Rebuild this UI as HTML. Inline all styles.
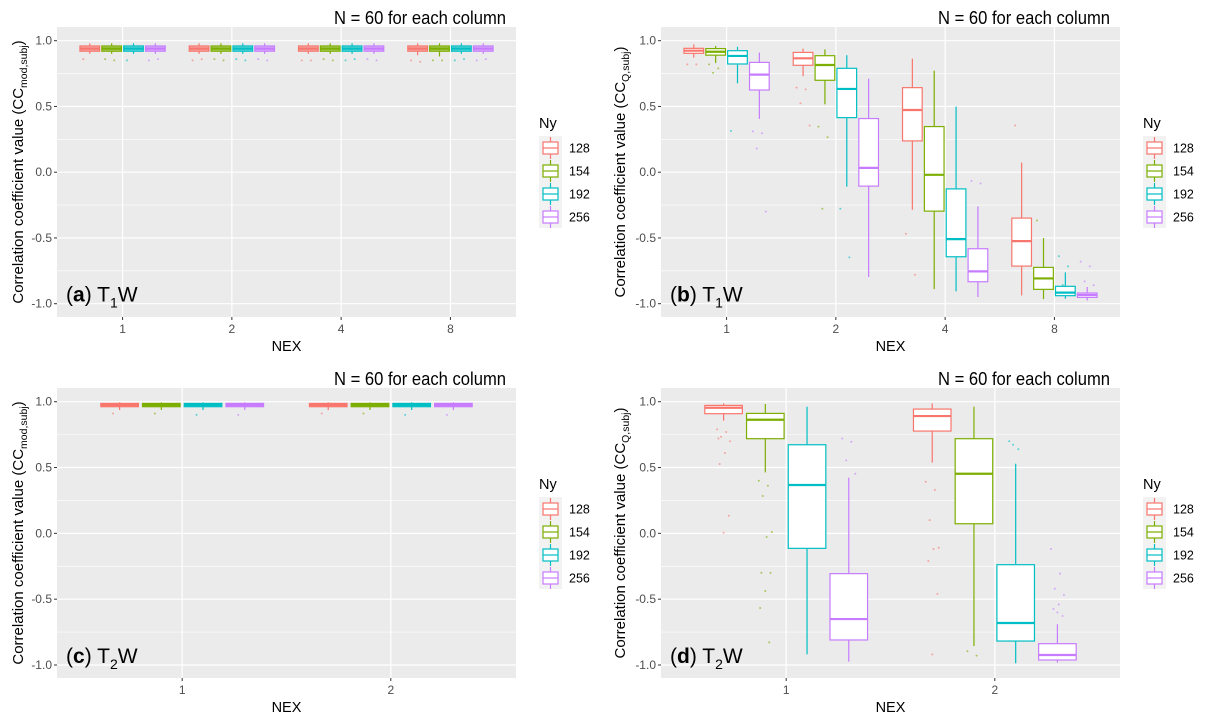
<!DOCTYPE html>
<html><head><meta charset="utf-8">
<style>
body{margin:0;background:#fff;}
svg{display:block;font-family:"Liberation Sans",Arial,sans-serif;}
</style></head>
<body>
<svg id="fig" width="1217" height="721" viewBox="0 0 1217 721" xmlns="http://www.w3.org/2000/svg"></svg>
<script>
// ---- Data ----
const colors = ["#F8766D","#7CAE00","#00BFC4","#C77CFF"];
const nyLabels = ["128","154","192","256"];
const yTicks = [-1.0,-0.5,0.0,0.5,1.0];
const yTickLabels = ["-1.0","-0.5","0.0","0.5","1.0"];
const nexT1 = ["1","2","4","8"];
const nexT2 = ["1","2"];
// stats: [lowerWhisker, q1, median, q3, upperWhisker], ordered by NEX then Ny
const statsA = [
 [0.90,0.92,0.94,0.96,0.98],[0.90,0.92,0.94,0.96,0.98],[0.90,0.92,0.94,0.96,0.98],[0.90,0.92,0.94,0.96,0.98],
 [0.90,0.92,0.94,0.96,0.98],[0.90,0.92,0.94,0.96,0.98],[0.90,0.92,0.94,0.96,0.98],[0.90,0.92,0.94,0.96,0.98],
 [0.90,0.92,0.94,0.96,0.98],[0.90,0.92,0.94,0.96,0.98],[0.90,0.92,0.94,0.96,0.98],[0.90,0.92,0.94,0.96,0.98],
 [0.89,0.92,0.94,0.96,0.98],[0.88,0.92,0.94,0.96,0.98],[0.90,0.92,0.94,0.96,0.98],[0.90,0.92,0.94,0.96,0.98]];
const outA = [[0.86],[0.86,0.85],[0.85],[0.85,0.86],[0.85,0.86],[0.86,0.85],[0.86,0.85],[0.86,0.85],
 [0.85,0.85],[0.86,0.85],[0.85,0.86],[0.86,0.85],[0.85,0.84],[0.85,0.85],[0.85,0.86],[0.85,0.86]];
const statsB = [
 [0.87,0.904,0.924,0.942,0.972],[0.83,0.89,0.916,0.94,0.96],[0.676,0.823,0.884,0.924,0.954],[0.405,0.625,0.742,0.835,0.91],
 [0.73,0.813,0.866,0.911,0.94],[0.516,0.699,0.815,0.886,0.934],[-0.11,0.415,0.633,0.79,0.89],[-0.797,-0.106,0.033,0.408,0.711],
 [-0.286,0.238,0.473,0.643,0.863],[-0.889,-0.296,-0.02,0.347,0.772],[-0.906,-0.643,-0.509,-0.127,0.499],[-0.949,-0.833,-0.754,-0.582,-0.26],
 [-0.937,-0.714,-0.524,-0.349,0.073],[-0.965,-0.891,-0.808,-0.724,-0.501],[-0.962,-0.939,-0.916,-0.868,-0.762],[-0.975,-0.952,-0.934,-0.919,-0.873]];
const outB = [[0.82,0.82],[0.82,0.79,0.755],[0.314],[0.31,0.296,0.18,-0.30],
 [0.643,0.63,0.524,0.355],[0.347,0.266,-0.278],[-0.278,-0.648],[],
 [-0.468,-0.78],[],[],[-0.066,-0.086],
 [0.355],[-0.367],[-0.638,-0.716,-0.858],[-0.68,-0.716,-0.83,-0.86]];
const statsC = [
 [0.937,0.962,0.975,0.987,0.995],[0.937,0.962,0.975,0.987,0.995],[0.937,0.962,0.975,0.987,0.995],[0.937,0.962,0.975,0.987,0.995],
 [0.937,0.962,0.975,0.987,0.995],[0.937,0.962,0.975,0.987,0.995],[0.937,0.962,0.975,0.987,0.995],[0.937,0.962,0.975,0.987,0.995]];
const outC = [[0.91],[0.91],[0.90],[0.90],[0.91],[0.91],[0.90],[0.90]];
const statsD = [
 [0.856,0.909,0.954,0.972,0.987],[0.463,0.719,0.863,0.911,0.982],[-0.919,-0.114,0.367,0.673,0.962],[-0.975,-0.81,-0.651,-0.306,0.423],
 [0.537,0.777,0.891,0.944,0.987],[-0.856,0.073,0.453,0.719,0.962],[-0.987,-0.818,-0.681,-0.238,0.529],[-0.982,-0.962,-0.924,-0.838,-0.69]];
const outD = [[0.79,0.77,0.734,0.70,0.61,0.527,0.134,0.005,0.72],[0.40,0.362,0.284,0.01,-0.028,-0.299,-0.30,-0.438,-0.567,-0.828],[],[0.72,0.696,0.554,0.453],
 [0.392,0.33,0.10,-0.109,-0.119,-0.21,-0.46,-0.919],[-0.896,-0.929],[0.70,0.64,0.673],[-0.119,-0.306,-0.42,-0.468,-0.54,-0.575,-0.628,-0.6]];

// ---- Drawing ----
const NS="http://www.w3.org/2000/svg";
const svg=document.getElementById('fig');
function mk(tag,attrs,parent){const e=document.createElementNS(NS,tag);for(const k in attrs)e.setAttribute(k,attrs[k]);(parent||svg).appendChild(e);return e;}

const panels=[
 {id:'a',x0:57,top:27,bot:317,yTop:40.7,yBot:303.7,cats:nexT1,stats:statsA,outs:outA,fill:true,sub:'mod,subj',label:'a',T:'1',legX:539,titleX:18},
 {id:'b',x0:661,top:27,bot:317,yTop:40.7,yBot:303.7,cats:nexT1,stats:statsB,outs:outB,fill:false,sub:'Q,subj',label:'b',T:'1',legX:1143,titleX:620},
 {id:'c',x0:57,top:388,bot:678,yTop:401.7,yBot:665,cats:nexT2,stats:statsC,outs:outC,fill:true,sub:'mod,subj',label:'c',T:'2',legX:539,titleX:18},
 {id:'d',x0:661,top:388,bot:678,yTop:401.7,yBot:665,cats:nexT2,stats:statsD,outs:outD,fill:false,sub:'Q,subj',label:'d',T:'2',legX:1143,titleX:620}
];
const W=459;
panels.forEach(p=>{
 const g=mk('g',{});
 
 
 const n=p.cats.length;
 const unit=W/(n+0.2);
 const xs=i=>p.x0+(i+0.6)*unit;
 const ys=v=>p.yBot+(v+1)/2*(p.yTop-p.yBot);
 const bg=mk('rect',{x:p.x0,y:p.top,width:W,height:p.bot-p.top,fill:'#EBEBEB'},g);
 
 
 for(let k=0;k<yTicks.length-1;k++){const v=(yTicks[k]+yTicks[k+1])/2;mk('line',{x1:p.x0,x2:p.x0+W,y1:ys(v),y2:ys(v),stroke:'#fff','stroke-width':0.6},g);}
 yTicks.forEach((v,k)=>{
  mk('line',{x1:p.x0,x2:p.x0+W,y1:ys(v),y2:ys(v),stroke:'#fff','stroke-width':1.2},g);
  mk('line',{x1:p.x0-3,x2:p.x0,y1:ys(v),y2:ys(v),stroke:'#333','stroke-width':1},g);
  const t=mk('text',{x:p.x0-5,y:ys(v)+4,'text-anchor':'end','font-size':12,fill:'#4D4D4D'},g);t.textContent=yTickLabels[k];
  
  
 });
 p.cats.forEach((c,i)=>{
  mk('line',{x1:xs(i),x2:xs(i),y1:p.top,y2:p.bot,stroke:'#fff','stroke-width':1.2},g);
  mk('line',{x1:xs(i),x2:xs(i),y1:p.bot,y2:p.bot+3,stroke:'#333','stroke-width':1},g);
  const t=mk('text',{x:xs(i),y:p.bot+16,'text-anchor':'middle','font-size':12,fill:'#4D4D4D'},g);t.textContent=c;
  
  
 });
 const bw=unit*0.2;
 p.stats.forEach((s,j)=>{
  const ci=Math.floor(j/4),ny=j%4;
  const cx=xs(ci)+(ny-1.5)*bw;
  const col=colors[ny];
  const bx=mk('g',{},g);
  
  
  mk('line',{x1:cx,x2:cx,y1:ys(s[4]),y2:ys(s[3]),stroke:col,'stroke-width':1.2},bx);
  mk('line',{x1:cx,x2:cx,y1:ys(s[1]),y2:ys(s[0]),stroke:col,'stroke-width':1.2},bx);
  mk('rect',{x:cx-bw*0.45,y:ys(s[3]),width:bw*0.9,height:Math.max(0.5,ys(s[1])-ys(s[3])),fill:p.fill?col:'#fff','fill-opacity':p.fill?0.55:1,stroke:col,'stroke-width':1.2},bx);
  mk('line',{x1:cx-bw*0.45,x2:cx+bw*0.45,y1:ys(s[2]),y2:ys(s[2]),stroke:col,'stroke-width':2.2},bx);
  p.outs[j].forEach((v,k)=>{
   const o=mk('circle',{cx:cx+((k*7)%11-5)*1.3,cy:ys(v),r:1,fill:col,'fill-opacity':0.6},bx);
   
   
  });
 });
 const nt=mk('text',{x:p.x0+W-10,y:p.top-3,'text-anchor':'end','font-size':18,fill:'#000',textLength:172,lengthAdjust:'spacingAndGlyphs'},g);
 nt.textContent='N = 60 for each column';
 
 
 const pl=mk('text',{x:p.x0+9,y:p.yBot-2,'font-size':21,fill:'#000'},g);
 pl.innerHTML='(<tspan font-weight="bold">'+p.label+'</tspan>) T<tspan font-size="14" dy="6">'+p.T+'</tspan><tspan dy="-6">W</tspan>';
 
 
 const xt=mk('text',{x:p.x0+W/2,y:p.bot+34,'text-anchor':'middle','font-size':14.5,fill:'#000'},g);xt.textContent='NEX';
 
 
 const cy=(p.top+p.bot)/2;
 const yt=mk('text',{x:0,y:0,'text-anchor':'middle','font-size':15,fill:'#000',transform:'translate('+(p.titleX+5)+','+cy+') rotate(-90)'},g);
 yt.innerHTML='Correlation coefficient value (CC<tspan font-size="10.5" dy="4">'+p.sub+'</tspan><tspan dy="-4">)</tspan>';
 
 
 const lg=mk('g',{},g);
 
 
 const ly=cy-45;
 const lt=mk('text',{x:p.legX,y:ly+1,'font-size':14.5,fill:'#000'},lg);lt.textContent='Ny';
 mk('rect',{x:p.legX,y:ly+9,width:23,height:92,fill:'#F2F2F2'},lg);
 nyLabels.forEach((lab,k)=>{
  const ry=ly+21+k*23;const kx=p.legX+11.5;
  const e=mk('g',{},lg);
  
  
  mk('line',{x1:kx,x2:kx,y1:ry-11,y2:ry+11,stroke:colors[k],'stroke-width':1.2},e);
  mk('rect',{x:kx-7.5,y:ry-6,width:15,height:12,fill:'#fff',stroke:colors[k],'stroke-width':1.2},e);
  mk('line',{x1:kx-7.5,x2:kx+7.5,y1:ry,y2:ry,stroke:colors[k],'stroke-width':1.2},e);
  const t=mk('text',{x:p.legX+30,y:ry+4.5,'font-size':12.5,fill:'#000'},e);t.textContent=lab;
 });
});
</script>
</body></html>
